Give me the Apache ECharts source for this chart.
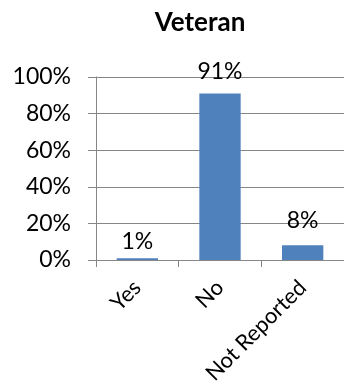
<!DOCTYPE html>
<html><head><meta charset="utf-8">
<script src="https://cdn.jsdelivr.net/npm/echarts@6/dist/echarts.min.js"></script>
<style>html,body{margin:0;padding:0;background:#fff}#c{width:344px;height:387px}</style>
</head><body><div id="c"></div>
<script>
const categories = ["Yes", "No", "Not Reported"];
const values = [0.01, 0.91, 0.08];
const labelGaps = [5, 10, 13];
const yTicks = [0, 0.2, 0.4, 0.6, 0.8, 1.0];
const titleText = "Veteran";

const FONT = "Lato";
const chart = echarts.init(document.getElementById('c'), null, {renderer: 'canvas'});
chart.setOption({
  animation: false,
  backgroundColor: '#ffffff',
  title: {text: titleText, left: 195, textAlign: 'center', top: 5,
    textStyle: {fontFamily: FONT, fontWeight: 'bold', fontSize: 26, color: '#000'}},
  grid: {left: 96, top: 77, width: 254, height: 183, containLabel: false},
  xAxis: {type: 'category', data: categories,
    axisLine: {lineStyle: {color: '#868686', width: 1}},
    axisTick: {show: true, length: 7, lineStyle: {color: '#868686'}},
    axisLabel: {rotate: 45, margin: 24, fontFamily: FONT, fontSize: 22, color: '#000', interval: 0}},
  yAxis: {type: 'value', min: yTicks[0], max: yTicks[yTicks.length - 1], interval: 0.2,
    axisLine: {show: true, lineStyle: {color: '#868686', width: 1}},
    axisTick: {show: true, inside: false, length: 8, lineStyle: {color: '#868686'}},
    splitLine: {show: true, lineStyle: {color: '#868686', width: 1}},
    axisLabel: {margin: 25, fontFamily: FONT, fontSize: 23, color: '#000',
      formatter: v => Math.round(v * 100) + '%'}},
  series: [{type: 'bar', barWidth: '50%',
    itemStyle: {color: '#4F81BD'},
    data: values.map((v, i) => ({value: v, label: {distance: labelGaps[i]}})),
    label: {show: true, position: 'top', fontFamily: FONT, fontSize: 23, color: '#000',
      formatter: p => Math.round(p.value * 100) + '%'}}]
});
</script></body></html>
